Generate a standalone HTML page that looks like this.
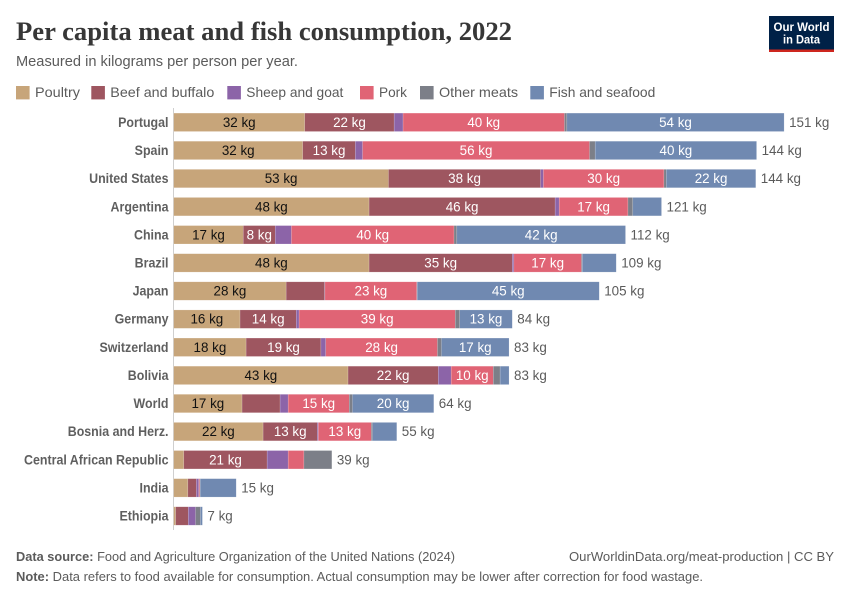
<!DOCTYPE html>
<html lang="en">
<head>
<meta charset="utf-8">
<title>Per capita meat and fish consumption, 2022</title>
<style>
html,body{margin:0;padding:0;background:#fff;}
svg{display:block;font-family:"Liberation Sans",sans-serif;}
</style>
</head>
<body>
<svg id="chart" width="850" height="600" viewBox="0 0 850 600" xmlns="http://www.w3.org/2000/svg">
  <text x="16" y="40" font-family="'Liberation Serif',serif" font-weight="700" font-size="26.5" fill="#373737" textLength="496" lengthAdjust="spacingAndGlyphs">Per capita meat and fish consumption, 2022</text>
  <text x="16" y="66" font-size="14.5" fill="#5b5b5b" textLength="282" lengthAdjust="spacingAndGlyphs">Measured in kilograms per person per year.</text>
  <g>
    <rect x="769" y="16" width="65" height="36" fill="#002147"/>
    <rect x="769" y="49.5" width="65" height="2.5" fill="#ce261e"/>
    <text x="801.5" y="31" text-anchor="middle" font-size="12" font-weight="700" fill="#fff" textLength="56" lengthAdjust="spacingAndGlyphs">Our World</text>
    <text x="801.5" y="43.5" text-anchor="middle" font-size="12" font-weight="700" fill="#fff" textLength="37" lengthAdjust="spacingAndGlyphs">in Data</text>
  </g>
  <g id="legend"></g>
  <line x1="173.5" x2="173.5" y1="108" y2="530" stroke="#cfcfcf" stroke-width="1"/>
  <g id="bars"></g>
  <text x="16" y="561" font-size="13" fill="#5b5b5b" textLength="439" lengthAdjust="spacingAndGlyphs"><tspan font-weight="700">Data source:</tspan> Food and Agriculture Organization of the United Nations (2024)</text>
  <a><text x="834" y="561" text-anchor="end" font-size="13" fill="#5b5b5b" textLength="265" lengthAdjust="spacingAndGlyphs">OurWorldinData.org/meat-production | CC BY</text></a>
  <text x="16" y="581" font-size="13" fill="#5b5b5b" textLength="687" lengthAdjust="spacingAndGlyphs"><tspan font-weight="700">Note:</tspan> Data refers to food available for consumption. Actual consumption may be lower after correction for food wastage.</text>
</svg>
<script>
const countries = ["Portugal","Spain","United States","Argentina","China","Brazil","Japan","Germany","Switzerland","Bolivia","World","Bosnia and Herz.","Central African Republic","India","Ethiopia"];
const seriesNames = ["Poultry","Beef and buffalo","Sheep and goat","Pork","Other meats","Fish and seafood"];
const poultry = [32.4,31.9,53.1,48.3,17.2,48.3,27.8,16.4,17.9,43.1,16.9,22.1,2.5,3.5,0.5];
const beef = [22.1,13,37.6,46,7.9,35.4,9.5,13.9,18.5,22.3,9.4,13.4,20.6,2.1,3.1];
const sheep = [2.2,1.8,0.7,1,4,0.4,0.1,0.7,1.2,3.2,2,0.25,5.2,0.6,1.8];
const pork = [39.9,56.1,29.8,17,40.2,16.7,22.7,38.6,27.6,10.4,15.1,13.1,3.9,0.25,0];
const otherMeats = [0.6,1.4,0.6,1.2,0.7,0.2,0.1,1.1,1,1.7,0.8,0.3,6.9,0.1,1.2];
const fish = [53.7,39.9,22.1,7.1,41.7,8.4,45,13,16.7,2.2,20.1,6,0,8.9,0.5];
const showPoultryLabel = [1,1,1,1,1,1,1,1,1,1,1,1,0,0,0];
const showBeefLabel = [1,1,1,1,1,1,0,1,1,1,0,1,1,0,0];
const showSheepLabel = [0,0,0,0,0,0,0,0,0,0,0,0,0,0,0];
const showPorkLabel = [1,1,1,1,1,1,1,1,1,1,1,1,0,0,0];
const showOtherLabel = [0,0,0,0,0,0,0,0,0,0,0,0,0,0,0];
const showFishLabel = [1,1,1,0,1,0,1,1,1,0,1,0,0,0,0];

const seriesValues = [poultry,beef,sheep,pork,otherMeats,fish];
const seriesLabelFlags = [showPoultryLabel,showBeefLabel,showSheepLabel,showPorkLabel,showOtherLabel,showFishLabel];
const seriesColors = ["#c7a57a","#9e5660","#8c64a8","#e06475","#7c7f88","#7089b1"];
const labelColors = ["#111","#fff","#fff","#fff","#fff","#fff"];
const legendSwatchX = [16,91.3,227.3,360,420,530.3];
const legendTextWidths = [45,104,97,28,79,106];

const NS = "http://www.w3.org/2000/svg";
const xOrigin = 173.7, pxPerKg = 4.045, rowTop = 122.3, rowStep = 28.12, barH = 18.4;
const xScale = v => xOrigin + v * pxPerKg;
const yCenter = i => rowTop + i * rowStep;

function make(tag, attrs, parent) {
  const el = document.createElementNS(NS, tag);
  for (const k in attrs) el.setAttribute(k, attrs[k]);
  parent.appendChild(el);
  return el;
}
function slug(s) { return s.toLowerCase().replace(/[^a-z0-9]+/g, "-"); }

const legend = document.getElementById("legend");
seriesNames.forEach((name, s) => {
  const g = make("g", {}, legend);
  
  
  const sw = make("rect", {x: legendSwatchX[s], y: 86, width: 13.6, height: 13.4, fill: seriesColors[s]}, g);
  
  
  const t = make("text", {x: legendSwatchX[s] + 19, y: 97, "font-size": 14, fill: "#5b5b5b", textLength: legendTextWidths[s], lengthAdjust: "spacingAndGlyphs"}, g);
  
  
  t.textContent = name;
});

const bars = document.getElementById("bars");
countries.forEach((country, i) => {
  const row = make("g", {}, bars);
  
  
  const cy = yCenter(i);
  const name = make("text", {x: 168.5, y: cy + 4.6, "text-anchor": "end", "font-size": 13.5, "font-weight": 700, fill: "#5f5f5f"}, row);
  
  
  name.textContent = country;
  name.setAttribute("textLength", name.getComputedTextLength() * 0.92);
  name.setAttribute("lengthAdjust", "spacingAndGlyphs");
  let cum = 0;
  seriesValues.forEach((vals, s) => {
    const v = vals[i];
    if (v > 0) {
      const x0 = xScale(cum), x1 = xScale(cum + v);
      const r = make("rect", {x: x0, y: cy - barH / 2, width: x1 - x0, height: barH, fill: seriesColors[s], stroke: "rgba(255,255,255,0.3)", "stroke-width": 0.5}, row);
      
      
      if (seriesLabelFlags[s][i]) {
        const lbl = make("text", {x: (x0 + x1) / 2, y: cy + 4.6, "text-anchor": "middle", "font-size": 13.4, fill: labelColors[s]}, row);
        
        
        lbl.textContent = Math.round(v) + " kg";
      }
    }
    cum += v;
  });
  const total = make("text", {x: xScale(cum) + 5, y: cy + 4.6, "font-size": 13.4, fill: "#5b5b5b"}, row);
  
  
  total.textContent = Math.round(cum) + " kg";
});
</script>
</body>
</html>
